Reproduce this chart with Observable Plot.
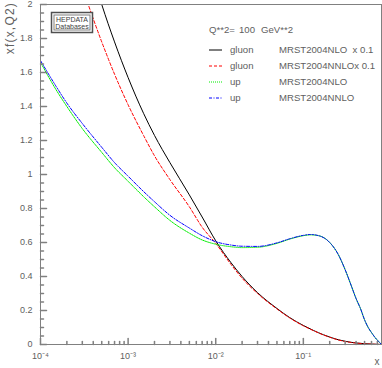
<!DOCTYPE html>
<html>
<head>
<meta charset="utf-8">
<script src="https://cdn.jsdelivr.net/npm/d3@7"></script>
<script src="https://cdn.jsdelivr.net/npm/@observablehq/plot@0.6"></script>
<style>
  html, body { margin: 0; padding: 0; background: #fff; }
  svg { font-family: "Liberation Sans", Arial, sans-serif; }
</style>
</head>
<body>
<div id="chart"></div>
<script>
// ---- data ----
const xGluon = [3e-4, 5e-4, 7e-4, 1e-3, 1.5e-3, 2e-3, 3e-3, 5e-3, 7e-3, 1e-2, 1.5e-2, 2e-2, 3e-2, 5e-2, 7e-2, 0.1, 0.13, 0.17, 0.2, 0.25, 0.3, 0.35, 0.4, 0.5, 0.6, 0.7, 0.78];
const gluonNLO  = [2.39, 2.0, 1.78, 1.57, 1.36, 1.23, 1.07, 0.88, 0.75, 0.61, 0.48, 0.40, 0.305, 0.212, 0.158, 0.112, 0.083, 0.057, 0.044, 0.028, 0.019, 0.013, 0.009, 0.0048, 0.0024, 0.001, 0.0003];
const gluonNNLO = [2.10, 1.78, 1.59, 1.41, 1.23, 1.11, 0.97, 0.81, 0.69, 0.595, 0.47, 0.39, 0.30, 0.209, 0.156, 0.110, 0.082, 0.056, 0.043, 0.027, 0.018, 0.012, 0.0085, 0.0045, 0.0022, 0.0009, 0.0003];

const xUp = [1e-4, 1.5e-4, 2e-4, 3e-4, 5e-4, 7e-4, 1e-3, 1.5e-3, 2e-3, 3e-3, 5e-3, 7e-3, 1e-2, 1.5e-2, 2e-2, 3e-2, 5e-2, 7e-2, 0.1, 0.12, 0.15, 0.2, 0.25, 0.3, 0.35, 0.4, 0.45, 0.5, 0.55, 0.6, 0.65, 0.7, 0.75, 0.78];
const upNLO  = [1.66, 1.50, 1.40, 1.27, 1.13, 1.04, 0.96, 0.87, 0.81, 0.73, 0.655, 0.615, 0.59, 0.575, 0.57, 0.572, 0.595, 0.62, 0.64, 0.645, 0.64, 0.60, 0.53, 0.44, 0.35, 0.27, 0.21, 0.145, 0.10, 0.07, 0.045, 0.025, 0.01, 0.0];
const upNNLO = [1.67, 1.52, 1.42, 1.30, 1.16, 1.07, 0.99, 0.90, 0.84, 0.76, 0.685, 0.64, 0.605, 0.585, 0.578, 0.577, 0.598, 0.622, 0.642, 0.647, 0.64, 0.60, 0.53, 0.44, 0.35, 0.27, 0.21, 0.145, 0.10, 0.07, 0.045, 0.025, 0.01, 0.0];

const xMajor = [1e-4, 1e-3, 1e-2, 1e-1];
const xMajorLabels = ["10\u207B\u2074", "10\u207B\u00B3", "10\u207B\u00B2", "10\u207B\u00B9"];
const xMinor = [2e-4,3e-4,4e-4,5e-4,6e-4,7e-4,8e-4,9e-4, 2e-3,3e-3,4e-3,5e-3,6e-3,7e-3,8e-3,9e-3, 2e-2,3e-2,4e-2,5e-2,6e-2,7e-2,8e-2,9e-2, 0.2,0.3,0.4,0.5,0.6,0.7];
const yMajor = [0, 0.2, 0.4, 0.6, 0.8, 1, 1.2, 1.4, 1.6, 1.8, 2];
const yMinor = d3.range(0, 2.0001, 0.05).filter(v => Math.abs(v*5 - Math.round(v*5)) > 1e-6);

const legendQ = ["Q**2=", "100", "GeV**2"];
const legendParton = ["gluon", "gluon", "up", "up"];
const legendSet = ["MRST2004NLO  x 0.1", "MRST2004NNLOx 0.1", "MRST2004NLO", "MRST2004NNLO"];
const seriesColor = ["#000000", "#ff0000", "#00ee00", "#0000ff"];
const seriesDash = [null, "3,2", "1,1", "3,1.5,1,1.5"];

// ---- chart ----
const gray = "#808080";
const txt = "#606060";
const tickShape = {draw(ctx, l) { ctx.moveTo(0, 0); ctx.lineTo(0, -l); }};
const fmtY = d => String(+d.toFixed(1));

const series = [
  {xs: xGluon, ys: gluonNLO},
  {xs: xGluon, ys: gluonNNLO},
  {xs: xUp, ys: upNLO},
  {xs: xUp, ys: upNNLO}
];

const lineMarks = series.map((s, k) =>
  Plot.line(s.xs.map((x, i) => ({x, y: s.ys[i]})), {
    x: "x", y: "y", stroke: seriesColor[k], strokeWidth: 1,
    strokeDasharray: seriesDash[k] || undefined, curve: "monotone-x", clip: true
  })
);

const chart = Plot.plot({
  width: 382, height: 368,
  marginLeft: 40, marginRight: 1, marginTop: 4, marginBottom: 24,
  x: {type: "log", domain: [1e-4, 0.78], axis: null},
  y: {domain: [0, 2], axis: null},
  style: {background: "#fff", fontFamily: "Liberation Sans, Arial, sans-serif"},
  marks: [
    ...lineMarks,
    Plot.frame({stroke: gray, strokeWidth: 1}),
    Plot.vector(xMajor, {x: d => d, y: 0, length: 6, rotate: 0, anchor: "start", shape: tickShape, stroke: gray}),
    Plot.vector(xMinor, {x: d => d, y: 0, length: 3, rotate: 0, anchor: "start", shape: tickShape, stroke: gray}),
    Plot.vector(yMajor, {x: 1e-4, y: d => d, length: 6, rotate: 90, anchor: "start", shape: tickShape, stroke: gray}),
    Plot.vector(yMinor, {x: 1e-4, y: d => d, length: 3, rotate: 90, anchor: "start", shape: tickShape, stroke: gray}),
    Plot.text(yMajor, {x: 1e-4, y: d => d, text: fmtY, dx: -8, textAnchor: "end", fill: txt, fontSize: 9}),
    Plot.text(xMajor, {x: d => d, y: 0, text: (d, i) => xMajorLabels[i], dy: 12, fill: txt, fontSize: 9})
  ]
});

document.getElementById("chart").appendChild(chart);

// ---- annotations: axis titles, logo box, legend ----
const svg = d3.select(chart);
const ann = svg.append("g").attr("fill", txt).attr("font-family", "Liberation Sans, Arial, sans-serif");

ann.append("text").attr("transform", "translate(14,2) rotate(-90)")
  .attr("text-anchor", "end").attr("font-size", 12).attr("letter-spacing", 1.2).text("xf(x,Q2)");
ann.append("text").attr("x", 377).attr("y", 365).attr("text-anchor", "middle").attr("font-size", 10).text("x");

// HEPDATA box
const box = svg.append("g").attr("text-anchor", "middle");
box.append("rect").attr("x", 51.5).attr("y", 12.5).attr("width", 41).attr("height", 20)
  .attr("fill", "#fff").attr("stroke", "#505050").attr("stroke-width", 1.5);
box.append("rect").attr("x", 54).attr("y", 15).attr("width", 36).attr("height", 15)
  .attr("fill", "none").attr("stroke", "#808080").attr("stroke-width", 1);
box.append("text").attr("x", 72).attr("y", 22).attr("font-size", 7).attr("fill", "#404040").text("HEPDATA");
box.append("text").attr("x", 72).attr("y", 29).attr("font-size", 7).attr("fill", "#404040").text("Databases");

// legend
const leg = svg.append("g").attr("font-size", 9.6).attr("fill", txt).attr("text-anchor", "start")
  .attr("font-family", "Liberation Sans, Arial, sans-serif").style("white-space", "pre");
leg.append("text").attr("x", 209).attr("y", 33).text(legendQ[0]);
leg.append("text").attr("x", 239).attr("y", 33).text(legendQ[1]);
leg.append("text").attr("x", 261).attr("y", 33).text(legendQ[2]);
legendParton.forEach((p, k) => {
  const y = 50 + 16 * k;
  leg.append("line").attr("x1", 209).attr("x2", 222).attr("y1", y).attr("y2", y)
    .attr("stroke", seriesColor[k]).attr("stroke-width", 1)
    .attr("stroke-dasharray", seriesDash[k]);
  leg.append("text").attr("x", 230).attr("y", y + 3).text(p);
  leg.append("text").attr("x", 279).attr("y", y + 3).text(legendSet[k]);
});
</script>
</body>
</html>
